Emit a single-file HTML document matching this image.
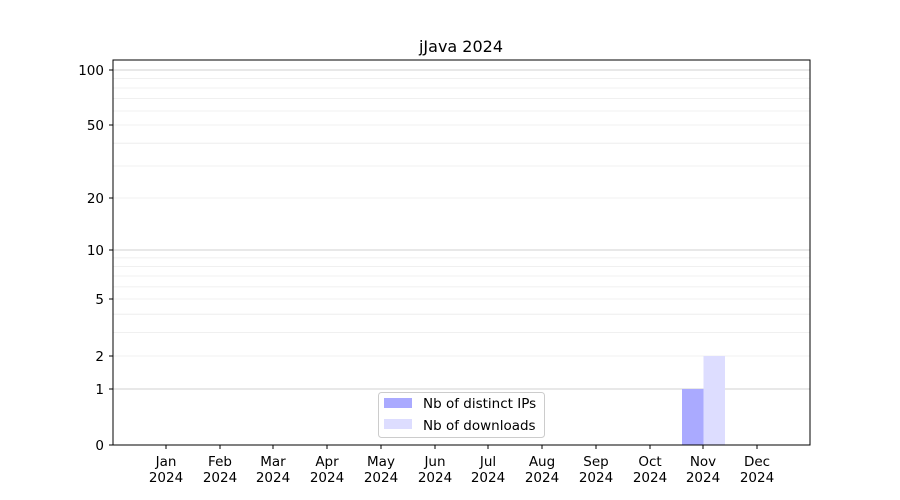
<!DOCTYPE html>
<html><head><meta charset="utf-8"><style>body{margin:0;background:#fff}svg{display:block;font-family:"DejaVu Sans","Liberation Sans",sans-serif}</style></head><body>
<svg width="900" height="500" viewBox="0 0 900 500">
<rect width="900" height="500" fill="#fff"/>
<g stroke="#ebebeb" stroke-width="0.8">
<line x1="113" x2="810" y1="332.4" y2="332.4"/><line x1="113" x2="810" y1="314.2" y2="314.2"/>
<line x1="113" x2="810" y1="286.9" y2="286.9"/><line x1="113" x2="810" y1="276" y2="276"/>
<line x1="113" x2="810" y1="266.5" y2="266.5"/><line x1="113" x2="810" y1="257.9" y2="257.9"/>
<line x1="113" x2="810" y1="166" y2="166"/><line x1="113" x2="810" y1="143.2" y2="143.2"/>
<line x1="113" x2="810" y1="111" y2="111"/><line x1="113" x2="810" y1="98.6" y2="98.6"/>
<line x1="113" x2="810" y1="88" y2="88"/><line x1="113" x2="810" y1="78.5" y2="78.5"/>
<line x1="113" x2="810" y1="356" y2="356"/><line x1="113" x2="810" y1="299" y2="299"/>
<line x1="113" x2="810" y1="198" y2="198"/><line x1="113" x2="810" y1="125" y2="125"/>
</g>
<g stroke="#d0d0d0" stroke-width="1">
<line x1="113" x2="810" y1="389" y2="389"/><line x1="113" x2="810" y1="250" y2="250"/><line x1="113" x2="810" y1="70" y2="70"/>
</g>
<rect x="682" y="389" width="21.5" height="56" fill="#aaaaff"/>
<rect x="703.5" y="356" width="21.5" height="89" fill="#ddddff"/>
<rect x="113" y="60" width="697" height="385" fill="none" stroke="#000" stroke-width="1"/>
<g stroke="#000" stroke-width="1">
<line x1="109" x2="113" y1="445" y2="445"/><line x1="109" x2="113" y1="389" y2="389"/><line x1="109" x2="113" y1="356" y2="356"/><line x1="109" x2="113" y1="299" y2="299"/><line x1="109" x2="113" y1="250" y2="250"/><line x1="109" x2="113" y1="198" y2="198"/><line x1="109" x2="113" y1="125" y2="125"/><line x1="109" x2="113" y1="70" y2="70"/>
</g>
<g font-size="13.5" text-anchor="end" fill="#000">
<text x="104" y="450">0</text><text x="104" y="394">1</text><text x="104" y="361">2</text><text x="104" y="304">5</text><text x="104" y="255">10</text><text x="104" y="203">20</text><text x="104" y="130">50</text><text x="104" y="75">100</text>
</g>
<g font-size="13.5" text-anchor="middle" fill="#000">
<text x="166" y="466">Jan</text><text x="166" y="482">2024</text>
<text x="220" y="466">Feb</text><text x="220" y="482">2024</text>
<text x="273" y="466">Mar</text><text x="273" y="482">2024</text>
<text x="327" y="466">Apr</text><text x="327" y="482">2024</text>
<text x="381" y="466">May</text><text x="381" y="482">2024</text>
<text x="435" y="466">Jun</text><text x="435" y="482">2024</text>
<text x="488" y="466">Jul</text><text x="488" y="482">2024</text>
<text x="542" y="466">Aug</text><text x="542" y="482">2024</text>
<text x="596" y="466">Sep</text><text x="596" y="482">2024</text>
<text x="650" y="466">Oct</text><text x="650" y="482">2024</text>
<text x="703" y="466">Nov</text><text x="703" y="482">2024</text>
<text x="757" y="466">Dec</text><text x="757" y="482">2024</text>
</g>
<g stroke="#000">
<line x1="166" x2="166" y1="445" y2="449"/><line x1="220" x2="220" y1="445" y2="449"/><line x1="273" x2="273" y1="445" y2="449"/><line x1="327" x2="327" y1="445" y2="449"/><line x1="381" x2="381" y1="445" y2="449"/><line x1="435" x2="435" y1="445" y2="449"/><line x1="488" x2="488" y1="445" y2="449"/><line x1="542" x2="542" y1="445" y2="449"/><line x1="596" x2="596" y1="445" y2="449"/><line x1="650" x2="650" y1="445" y2="449"/><line x1="703" x2="703" y1="445" y2="449"/><line x1="757" x2="757" y1="445" y2="449"/>
</g>
<text x="461" y="52" font-size="16" text-anchor="middle">jJava 2024</text>
<rect x="378.5" y="392.5" width="166" height="45" rx="3" fill="#fff" fill-opacity="0.8" stroke="#ccc"/>
<rect x="384" y="398" width="28" height="10" fill="#aaaaff"/>
<rect x="384" y="419" width="28" height="10" fill="#ddddff"/>
<g font-size="13.5"><text x="423" y="408">Nb of distinct IPs</text><text x="423" y="430">Nb of downloads</text></g>
</svg>
</body></html>
